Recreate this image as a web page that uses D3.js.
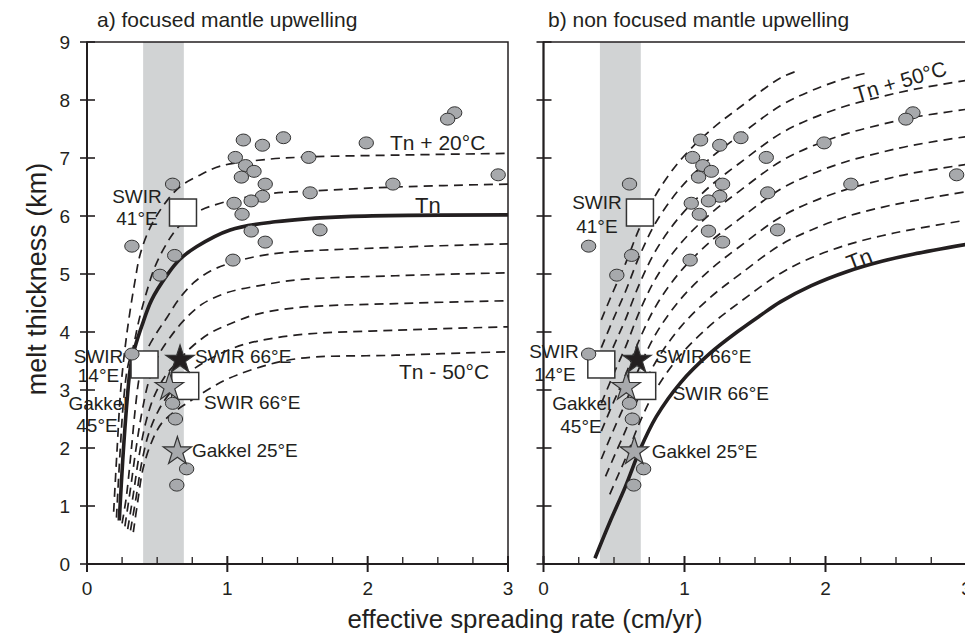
<!DOCTYPE html>
<html>
<head>
<meta charset="utf-8">
<script src="https://cdn.jsdelivr.net/npm/d3@7"></script>
<style>
  body { margin: 0; background: #fff; }
  svg { display: block; font-family: "Liberation Sans", Arial, sans-serif; }
</style>
</head>
<body>
<div id="chart"></div>
<script>
// ---- donnees ----
const bandRate = [0.40, 0.69];

// cercles gris (dorsales)
const ridgeRate  = [2.62, 2.57, 1.114, 1.25, 1.40, 1.99, 1.057, 1.58, 1.13, 1.19, 1.10, 1.27, 0.61, 2.18, 2.93, 1.25,
                    1.17, 1.048, 1.59, 1.105, 1.17, 1.27, 1.66, 1.04, 0.32, 0.625, 0.52, 0.32, 0.61, 0.63, 0.71, 0.64];
const ridgeThick = [7.78, 7.67, 7.31, 7.22, 7.35, 7.26, 7.01, 7.01, 6.87, 6.77, 6.67, 6.55, 6.55, 6.55, 6.71, 6.34,
                    6.26, 6.22, 6.40, 6.03, 5.74, 5.55, 5.76, 5.24, 5.48, 5.32, 4.98, 3.62, 2.77, 2.50, 1.64, 1.36];

// carres blancs (SWIR 41E, SWIR 14E, SWIR 66E)
const squareRate  = [0.684, 0.41, 0.70];
const squareThick = [6.06, 3.44, 3.07];

// etoiles (SWIR 66E noire, Gakkel 45E, Gakkel 25E)
const starRate  = [0.663, 0.587, 0.644];
const starThick = [3.52, 3.05, 1.94];
const starFill  = ["#231f20", "#a7a9ac", "#a7a9ac"];

// courbes du modele, panneau a)
const leftTn = [[0.23,0.75],[0.255,1.8],[0.285,2.8],[0.31,3.4],[0.34,3.72],[0.39,4.1],[0.46,4.55],[0.57,4.98],
                [0.66,5.25],[0.78,5.47],[1.02,5.76],[1.34,5.9],[1.85,5.99],[3.0,6.02]];
const leftDashed = [
  [[0.19,0.9],[0.215,2.0],[0.24,3.0],[0.27,3.7],[0.30,4.25],[0.34,4.85],[0.38,5.35],[0.45,5.8],[0.55,6.2],[0.66,6.5],[0.8,6.7],[0.95,6.86],[1.3,6.98],[1.6,7.02],[2.2,7.05],[3.0,7.08]],
  [[0.21,0.8],[0.235,1.9],[0.26,2.8],[0.29,3.4],[0.33,3.75],[0.37,4.2],[0.42,4.65],[0.48,5.1],[0.55,5.45],[0.64,5.78],[0.77,6.05],[0.95,6.22],[1.28,6.38],[1.6,6.43],[2.2,6.5],[3.0,6.55]],
  [[0.25,0.7],[0.28,1.15],[0.315,1.95],[0.345,2.7],[0.375,3.25],[0.42,3.65],[0.5,4.0],[0.57,4.25],[0.65,4.55],[0.76,4.85],[0.88,5.05],[1.0,5.17],[1.3,5.34],[2.2,5.46],[3.0,5.52]],
  [[0.27,0.65],[0.31,1.3],[0.35,2.0],[0.39,2.6],[0.44,3.15],[0.51,3.6],[0.59,3.9],[0.69,4.2],[0.82,4.48],[1.0,4.68],[1.23,4.8],[1.5,4.9],[2.2,4.97],[3.0,5.02]],
  [[0.29,0.6],[0.33,1.2],[0.37,1.85],[0.42,2.45],[0.48,2.9],[0.56,3.25],[0.65,3.5],[0.75,3.75],[0.87,3.97],[1.0,4.12],[1.2,4.3],[1.5,4.42],[2.2,4.49],[3.0,4.54]],
  [[0.31,0.58],[0.35,1.15],[0.39,1.75],[0.44,2.25],[0.51,2.65],[0.6,2.98],[0.7,3.25],[0.85,3.5],[1.0,3.68],[1.14,3.8],[1.5,3.95],[2.2,4.03],[3.0,4.09]],
  [[0.33,0.55],[0.36,1.05],[0.40,1.65],[0.46,2.1],[0.53,2.42],[0.62,2.62],[0.73,2.8],[0.9,3.06],[1.07,3.26],[1.47,3.53],[2.2,3.6],[3.0,3.66]]
];

// courbes du modele, panneau b)
const rightTn = [[0.365,0.1],[0.47,0.72],[0.58,1.33],[0.684,1.97],[0.8,2.54],[0.97,3.12],[1.18,3.63],[1.39,4.03],
                 [1.535,4.28],[1.68,4.52],[1.9,4.8],[2.15,5.04],[2.4,5.22],[2.62,5.34],[3.0,5.51]];
const rightDashed = [
  [[0.47,1.2],[0.52,1.48],[0.58,1.81],[0.684,2.45],[0.8,3.02],[0.97,3.6],[1.18,4.11],[1.39,4.51],[1.68,5.01],[1.9,5.28],[2.15,5.5],[2.4,5.66],[2.62,5.77],[3.0,5.93]],
  [[0.44,1.51],[0.47,1.68],[0.52,1.96],[0.58,2.29],[0.684,2.93],[0.8,3.5],[0.97,4.08],[1.18,4.59],[1.39,4.99],[1.68,5.5],[1.9,5.76],[2.15,5.99],[2.4,6.15],[2.62,6.26],[3.0,6.42]],
  [[0.41,1.81],[0.47,2.16],[0.52,2.44],[0.58,2.77],[0.684,3.41],[0.8,3.98],[0.97,4.56],[1.18,5.07],[1.39,5.47],[1.68,5.98],[1.9,6.24],[2.15,6.46],[2.4,6.62],[2.62,6.74],[3.0,6.89]],
  [[0.41,2.29],[0.47,2.64],[0.52,2.92],[0.58,3.25],[0.684,3.89],[0.8,4.46],[0.97,5.04],[1.18,5.55],[1.39,5.95],[1.68,6.46],[1.9,6.72],[2.15,6.94],[2.4,7.1],[2.62,7.22],[3.0,7.37]],
  [[0.41,2.77],[0.47,3.12],[0.52,3.4],[0.58,3.73],[0.684,4.37],[0.8,4.94],[0.97,5.52],[1.18,6.03],[1.39,6.43],[1.68,6.94],[1.9,7.2],[2.15,7.42],[2.4,7.58],[2.62,7.7],[3.0,7.84]],
  [[0.41,3.25],[0.47,3.6],[0.52,3.88],[0.58,4.21],[0.684,4.85],[0.8,5.42],[0.97,6.0],[1.18,6.51],[1.39,6.91],[1.68,7.42],[1.9,7.68],[2.15,7.9],[2.4,8.06],[2.62,8.18],[3.0,8.34]],
  [[0.41,3.73],[0.47,4.08],[0.52,4.36],[0.58,4.69],[0.684,5.33],[0.8,5.9],[0.97,6.48],[1.18,6.99],[1.39,7.39],[1.68,7.9],[1.9,8.16],[2.15,8.38],[2.3,8.47]],
  [[0.41,4.21],[0.47,4.56],[0.52,4.84],[0.58,5.17],[0.684,5.81],[0.8,6.38],[0.97,6.96],[1.18,7.47],[1.39,7.87],[1.68,8.38],[1.8,8.5]]
];

// ticks
const xMajor = [0, 1, 2, 3];
const xMinor = [0.25, 0.5, 0.75, 1.25, 1.5, 1.75, 2.25, 2.5, 2.75];
const yMajor = [0, 1, 2, 3, 4, 5, 6, 7, 8, 9];

// annotations : [texte, x, y, ancrage, taille, rotation]
const leftNotes = [
  ["SWIR", 0.356, 6.224, "middle", 19, 0], ["41°E", 0.356, 5.845, "middle", 19, 0],
  ["SWIR", 0.082, 3.466, "middle", 19, 0], ["14°E", 0.082, 3.138, "middle", 19, 0],
  ["Gakkel", 0.078, 2.655, "middle", 19, 0], ["45°E", 0.071, 2.276, "middle", 19, 0],
  ["SWIR 66°E", 0.770, 3.466, "start", 19, 0], ["SWIR 66°E", 0.834, 2.672, "start", 19, 0],
  ["Gakkel 25°E", 0.748, 1.845, "start", 19, 0],
  ["Tn + 20°C", 2.159, 7.138, "start", 21, 0], ["Tn", 2.337, 6.057, "start", 22, 0],
  ["Tn - 50°C", 2.223, 3.190, "start", 21, 0]
];
const rightNotes = [
  ["SWIR", 0.379, 6.121, "middle", 19, 0], ["41°E", 0.379, 5.712, "middle", 19, 0],
  ["SWIR", 0.074, 3.547, "middle", 19, 0], ["14°E", 0.082, 3.155, "middle", 19, 0],
  ["Gakkel", 0.271, 2.655, "middle", 19, 0], ["45°E", 0.266, 2.264, "middle", 19, 0],
  ["SWIR 66°E", 0.791, 3.466, "start", 19, 0], ["SWIR 66°E", 0.916, 2.828, "start", 19, 0],
  ["Gakkel 25°E", 0.767, 1.828, "start", 19, 0],
  ["Tn + 50°C", 2.221, 7.971, "start", 21, -16.5], ["Tn", 2.174, 5.05, "start", 22, -21]
];

// ---- svg ----
const width = 965, height = 638;
const svg = d3.select("#chart").append("svg")
  .attr("width", width)
  .attr("height", height);

const y = d3.scaleLinear().domain([0, 9]).range([564, 42]);

const panels = [
  { id: "a", x: d3.scaleLinear().domain([0, 3]).range([87, 508]), title: "a) focused mantle upwelling",
    titleX: 97, tn: leftTn, dashed: leftDashed, notes: leftNotes, yLabels: true },
  { id: "b", x: d3.scaleLinear().domain([0, 3]).range([543.5, 966.5]), title: "b) non focused mantle upwelling",
    titleX: 548, tn: rightTn, dashed: rightDashed, notes: rightNotes, yLabels: false }
];

const grey = "#a7a9ac", ink = "#231f20";

panels.forEach(p => {
  const x = p.x;
  const g = svg.append("g");

  g.append("clipPath").attr("id", "clip-" + p.id)
    .append("rect")
    .attr("x", x(0)).attr("y", y(9))
    .attr("width", x(3) - x(0)).attr("height", y(0) - y(9));

  // bande grise
  g.append("rect")
    .attr("x", x(bandRate[0])).attr("y", y(9))
    .attr("width", x(bandRate[1]) - x(bandRate[0]))
    .attr("height", y(0) - y(9))
    .attr("fill", "#d1d3d4");

  // cadre
  g.append("rect")
    .attr("x", x(0)).attr("y", y(9))
    .attr("width", x(3) - x(0)).attr("height", y(0) - y(9))
    .attr("fill", "none").attr("stroke", ink).attr("stroke-width", 1.5);

  const line = d3.line()
    .x(d => x(d[0])).y(d => y(d[1]))
    .curve(d3.curveCatmullRom.alpha(0.5));

  const curves = g.append("g").attr("clip-path", "url(#clip-" + p.id + ")");
  curves.selectAll(".dash")
    .data(p.dashed)
    .enter().append("path")
    .attr("class", "dash")
    .attr("d", line)
    .attr("fill", "none")
    .attr("stroke", ink)
    .attr("stroke-width", 1.7)
    .attr("stroke-dasharray", "9,6");

  curves.append("path")
    .attr("d", line(p.tn))
    .attr("fill", "none")
    .attr("stroke", ink)
    .attr("stroke-width", 3.6);

  // carres
  g.selectAll(".sq")
    .data(squareRate.map((r, i) => [r, squareThick[i]]))
    .enter().append("rect")
    .attr("x", d => x(d[0]) - 13.5).attr("y", d => y(d[1]) - 13.5)
    .attr("width", 27).attr("height", 27)
    .attr("fill", "#fff").attr("stroke", "#333").attr("stroke-width", 1.5);

  // cercles
  g.selectAll(".ridge")
    .data(ridgeRate.map((r, i) => [r, ridgeThick[i]]))
    .enter().append("ellipse")
    .attr("cx", d => x(d[0])).attr("cy", d => y(d[1]))
    .attr("rx", 7.2).attr("ry", 6)
    .attr("fill", grey).attr("stroke", "#333").attr("stroke-width", 1);

  // etoiles
  const star = d3.symbol().type(d3.symbolStar).size(250);
  g.selectAll(".star")
    .data(starRate.map((r, i) => [r, starThick[i], starFill[i]]))
    .enter().append("path")
    .attr("d", star)
    .attr("transform", d => `translate(${x(d[0])},${y(d[1])})`)
    .attr("fill", d => d[2]).attr("stroke", "#333").attr("stroke-width", 1.2);

  // axe x
  g.append("line")
    .attr("x1", x(0)).attr("x2", x(3)).attr("y1", y(0)).attr("y2", y(0))
    .attr("stroke", ink).attr("stroke-width", 2);
  g.selectAll(".xmaj").data(xMajor).enter().append("line")
    .attr("x1", d => x(d)).attr("x2", d => x(d))
    .attr("y1", y(0) - 8).attr("y2", y(0) + 8)
    .attr("stroke", ink).attr("stroke-width", 2);
  g.selectAll(".xmin").data(xMinor).enter().append("line")
    .attr("x1", d => x(d)).attr("x2", d => x(d))
    .attr("y1", y(0) - 7).attr("y2", y(0))
    .attr("stroke", ink).attr("stroke-width", 1.3);
  g.selectAll(".xlab").data(xMajor).enter().append("text")
    .attr("x", d => x(d)).attr("y", 595)
    .attr("text-anchor", "middle")
    .attr("font-size", 19).attr("fill", ink)
    .text(d => d);

  // axe y
  g.append("line")
    .attr("x1", x(0)).attr("x2", x(0)).attr("y1", y(0)).attr("y2", y(9))
    .attr("stroke", ink).attr("stroke-width", 2);
  g.selectAll(".ymaj").data(yMajor).enter().append("line")
    .attr("x1", x(0) - 7).attr("x2", x(0) + 8)
    .attr("y1", d => y(d)).attr("y2", d => y(d))
    .attr("stroke", ink).attr("stroke-width", 1.6);
  if (p.yLabels) {
    g.selectAll(".ylab").data(yMajor).enter().append("text")
      .attr("x", 70).attr("y", d => y(d))
      .attr("dy", "0.36em")
      .attr("text-anchor", "end")
      .attr("font-size", 19).attr("fill", ink)
      .text(d => d);
  }

  // titre
  g.append("text")
    .attr("x", p.titleX).attr("y", 27)
    .attr("font-size", 21).attr("fill", ink)
    .text(p.title);

  // annotations
  g.selectAll(".note").data(p.notes).enter().append("text")
    .attr("transform", d => `translate(${x(d[1])},${y(d[2])}) rotate(${d[5]})`)
    .attr("text-anchor", d => d[3])
    .attr("font-size", d => d[4])
    .attr("fill", ink)
    .text(d => d[0]);
});

// titres des axes
svg.append("text")
  .attr("x", 525).attr("y", 628)
  .attr("text-anchor", "middle")
  .attr("font-size", 25.8).attr("fill", ink)
  .text("effective spreading rate (cm/yr)");

svg.append("text")
  .attr("transform", "translate(46,279) rotate(-90)")
  .attr("text-anchor", "middle")
  .attr("font-size", 27).attr("fill", ink)
  .text("melt thickness (km)");
</script>
</body>
</html>
